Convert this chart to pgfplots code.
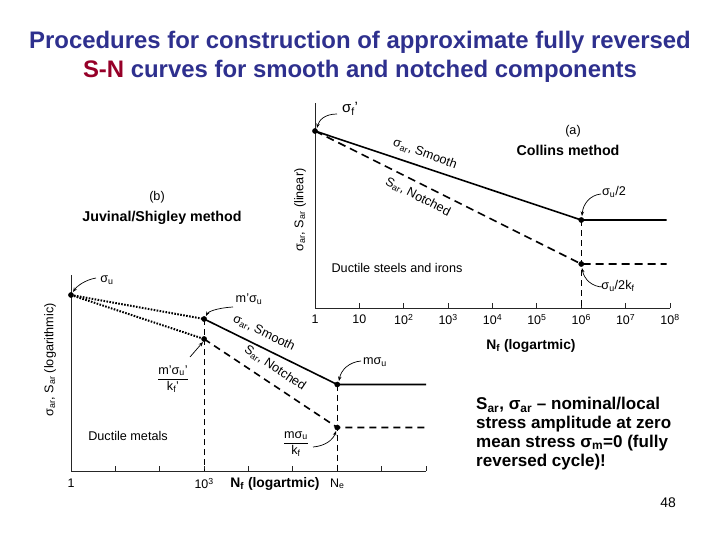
\documentclass[border=0pt]{standalone}
\usepackage{fontspec}
\setmainfont{Liberation Sans}
\usepackage{pgfplots}
\pgfplotsset{compat=1.18}
\usetikzlibrary{arrows.meta}
\definecolor{titleblue}{RGB}{46,48,142}
\definecolor{titlered}{RGB}{150,0,40}
\pgfplotsset{snaxis/.style={scale only axis, xmin=1, xmax=1e8, ymin=0,
  axis lines=left, axis line style={-, line width=0.8bp, black!85},
  xtick={1,10,100,1000,1e4,1e5,1e6,1e7,1e8}, ytick=\empty, xminorticks=false,
  tick align=inside, major tick length=5bp, tick style={black!85, line width=0.8bp},
  tick label style={font=\fontsize{12.5}{14}\selectfont}, clip=false}}
\begin{document}
\begin{tikzpicture}[x=1bp,y=-1bp]
\useasboundingbox (0,0) rectangle (720,540);
\tikzset{lbl/.style={font=\fontsize{12.7}{14}\selectfont, inner sep=0pt},
  arr/.style={-{Stealth[length=4.5bp,width=3.5bp]}, line width=0.7bp}}
% ---------- title
\node[align=center, font=\fontsize{24}{29}\selectfont\bfseries, text=titleblue] at (360,56.5)
  {Procedures for construction of approximate fully reversed\\ \textcolor{titlered}{S-N} curves for smooth and notched components};
% ---------- (a) Collins
\begin{semilogxaxis}[snaxis, at={(315bp,-308bp)}, anchor=south west, width=355bp, height=205bp, ymax=205,
  xticklabel style={yshift=-3bp},
  xticklabels={1,10,10\textsuperscript{2},10\textsuperscript{3},10\textsuperscript{4},10\textsuperscript{5},10\textsuperscript{6},10\textsuperscript{7},10\textsuperscript{8}}]
\addplot[black, line width=1.6bp] coordinates {(1,177) (1e6,88) (8.4e7,88)};
\addplot[black, line width=1.6bp, dash pattern=on 8bp off 5bp] coordinates {(1,177) (1e6,44) (8.4e7,44)};
\addplot[black, line width=0.7bp, dash pattern=on 6bp off 4bp] coordinates {(1e6,88) (1e6,0)};
\addplot[only marks, mark=*, mark size=2.6bp, black] coordinates {(1,177) (1e6,88) (1e6,44)};
\end{semilogxaxis}
\node[font=\fontsize{15}{17}\selectfont] at (350,109) {σ\textsubscript{f}'};
\draw[arr] (337,114) .. controls (325,114) and (319,120) .. (317,128);
\node[lbl] at (573,131) {(a)};
\node[lbl, font=\bfseries\fontsize{14.3}{16}\selectfont] at (568,150) {Collins method};
\node[lbl, rotate=-20] at (425,154) {σ\textsubscript{ar}, Smooth};
\node[lbl, rotate=-27] at (418,197) {S\textsubscript{ar}, Notched};
\node[lbl] at (614,192) {σ\textsubscript{u}/2};
\draw[arr] (601,194) .. controls (590,195) and (583,204) .. (582,216);
\node[lbl] at (618,286) {σ\textsubscript{u}/2k\textsubscript{f}};
\draw[arr] (603,287) .. controls (592,287) and (584,279) .. (582,268);
\node[lbl] at (397,268) {Ductile steels and irons};
\node[lbl, rotate=90] at (300,210) {σ\textsubscript{ar}, S\textsubscript{ar} (linear)};
\node[font=\bfseries\fontsize{13.9}{15}\selectfont] at (531,346) {N\textsubscript{f} (logartmic)};
% ---------- (b) Juvinal/Shigley
\begin{semilogxaxis}[snaxis, at={(71bp,-471bp)}, anchor=south west, width=355bp, height=196bp, ymax=196,
  xticklabel style={yshift=-4bp},
  xticklabels={1,,,10\textsuperscript{3},,,N\textsubscript{e},,}]
\addplot[black, line width=2bp, dash pattern=on 1.6bp off 1.4bp] coordinates {(1,176) (1000,152)};
\addplot[black, line width=2bp, dash pattern=on 1.6bp off 1.4bp] coordinates {(1,176) (1000,132)};
\addplot[black, line width=1.6bp] coordinates {(1000,152) (1e6,86.5) (1e8,86.5)};
\addplot[black, line width=1.6bp, dash pattern=on 7bp off 5bp] coordinates {(1000,132) (1e6,43.5) (1e8,43.5)};
\addplot[black, line width=0.7bp, dash pattern=on 6bp off 4bp] coordinates {(1000,152) (1000,0)};
\addplot[black, line width=0.7bp, dash pattern=on 6bp off 4bp] coordinates {(1e6,86.5) (1e6,0)};
\addplot[only marks, mark=*, mark size=2.6bp, black] coordinates {(1,176) (1000,152) (1000,132) (1e6,86.5) (1e6,43.5)};
\end{semilogxaxis}
\node[lbl] at (157,197) {(b)};
\node[lbl, font=\bfseries\fontsize{14.3}{16}\selectfont] at (162,218) {Juvinal/Shigley method};
\node[lbl] at (107,280) {σ\textsubscript{u}};
\draw[arr] (96,278) .. controls (85,280) and (77,286) .. (73,292);
\node[lbl] at (249,299) {m'σ\textsubscript{u}};
\draw[arr] (233,307) .. controls (216,308) and (208,312) .. (206,316);
\node[lbl, rotate=-26] at (264,333) {σ\textsubscript{ar}, Smooth};
\node[lbl, rotate=-34] at (275,368) {S\textsubscript{ar}, Notched};
\node[lbl] at (375,362) {mσ\textsubscript{u}};
\draw[arr] (361,361) .. controls (349,362) and (341,370) .. (339,381);
\node[lbl] at (173,379) {$\displaystyle\frac{\mbox{m'σ\textsubscript{u}'}}{\mbox{k\textsubscript{f}'}}$};
\draw[arr] (190,357) -- (203,342);
\node[lbl] at (296,444) {$\displaystyle\frac{\mbox{mσ\textsubscript{u}}}{\mbox{k\textsubscript{f}}}$};
\draw[arr] (313,447) .. controls (325,446) and (333,440) .. (336,431);
\node[lbl] at (128,436) {Ductile metals};
\node[lbl, rotate=90] at (50,360) {σ\textsubscript{ar}, S\textsubscript{ar} (logarithmic)};
\node[font=\bfseries\fontsize{13.9}{15}\selectfont] at (275,484) {N\textsubscript{f} (logartmic)};
% ---------- right text
\node[anchor=north west, align=left, inner sep=0pt, font=\fontsize{17.1}{19}\selectfont\bfseries] at (476,397)
  {S\textsubscript{ar}, σ\textsubscript{ar} – nominal/local\\stress amplitude at zero\\mean stress σ\textsubscript{m}=0 (fully\\reversed cycle)!};
\node[font=\fontsize{14}{16}\selectfont] at (668,503) {48};
\end{tikzpicture}
\end{document}
